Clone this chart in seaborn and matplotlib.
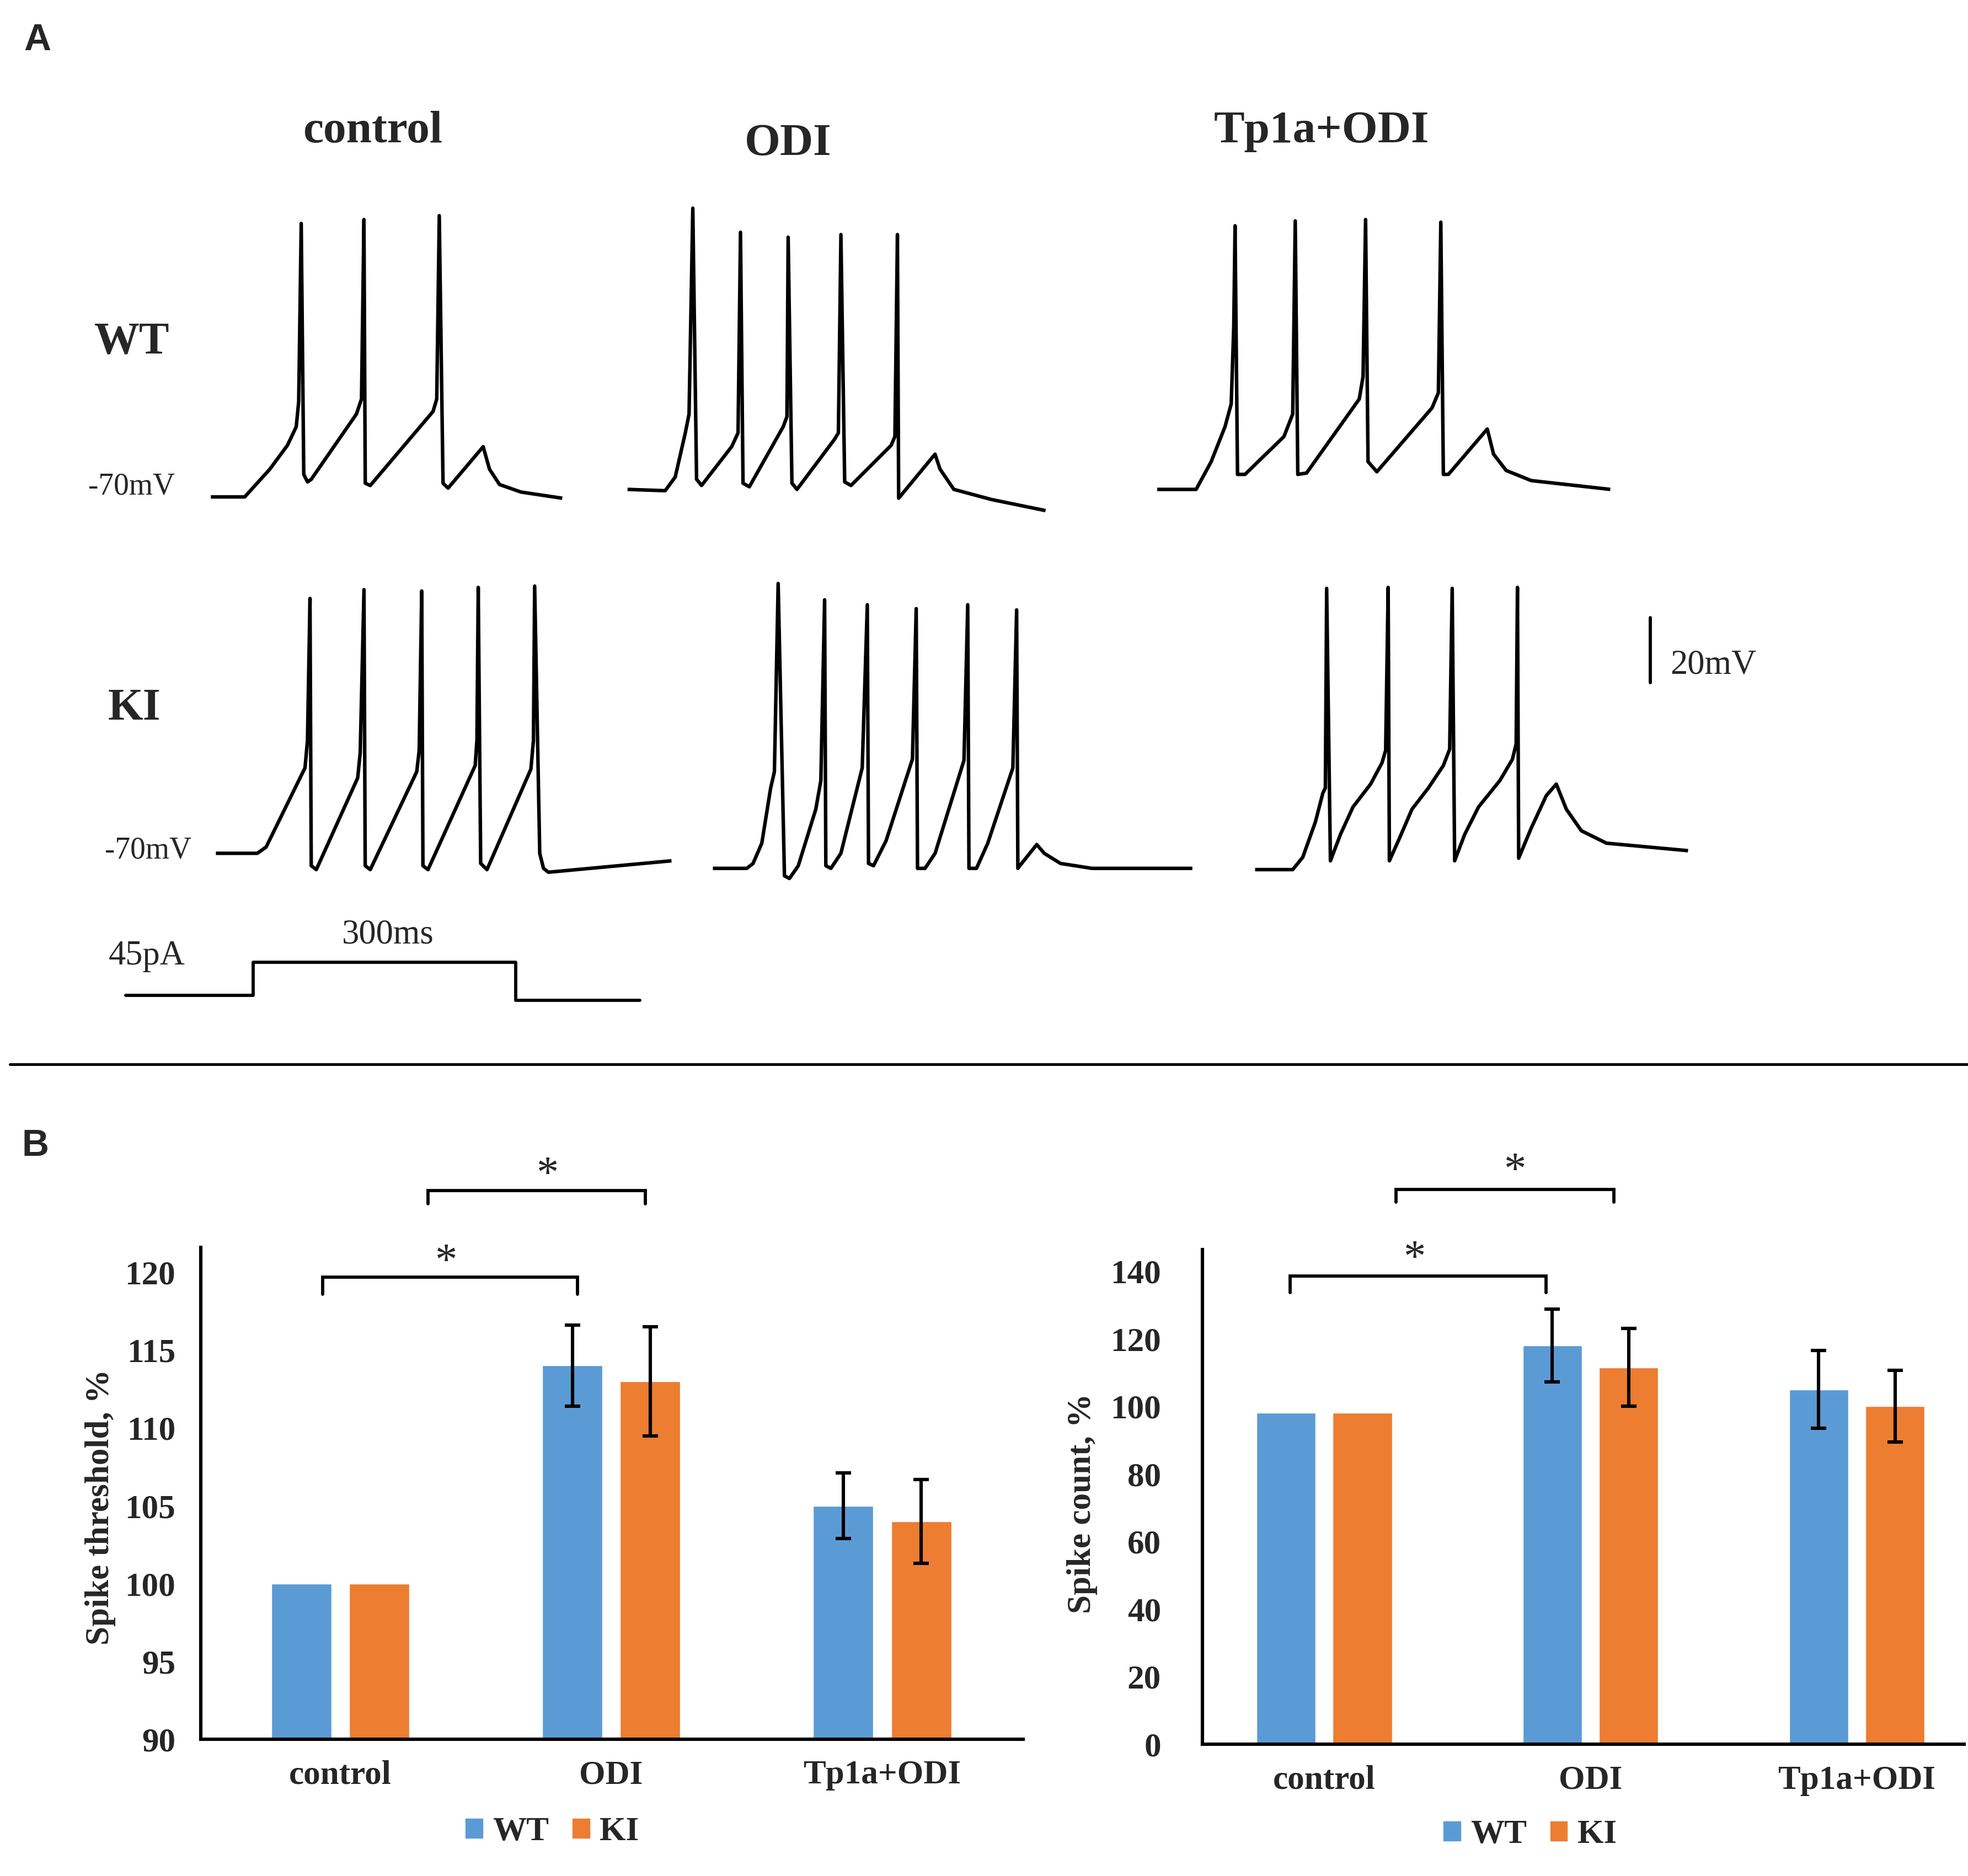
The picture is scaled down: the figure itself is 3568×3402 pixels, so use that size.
import numpy as np
import pandas as pd
import matplotlib
matplotlib.use("Agg")
import matplotlib.pyplot as plt
import seaborn as sns
from matplotlib.patches import Patch
from matplotlib.lines import Line2D

# ---------------- DATA ----------------
# Panel A: representative voltage traces (time in ms, membrane potential in mV)
wt_control_t = [0, 38.7, 67.4, 87.5, 97.6, 100.4, 103.3, 106.2, 110.5, 114.8, 166.4, 172.2, 175, 176.5, 182.2,
                254, 258.2, 261.1, 265.4, 271.2, 311.3, 318.5, 330, 354.4, 401.7]
wt_control_v = [-70, -70, -61.5, -54.2, -48.5, -40.8, 13.8, -63.1, -65.4, -64.6, -44.6, -40, 15, -65.8, -66.5,
                -43.8, -40, 16.2, -65.8, -67.3, -54.6, -61.5, -66.2, -68.5, -70.4]

wt_odi_t = [0, 43, 54.5, 66, 70.3, 74.6, 78.9, 84.6, 119, 126.3, 129.1, 132, 139.2, 177.9, 182.2, 183.6, 187.9,
            193.7, 236.7, 241, 243.9, 248.2, 255.4, 301.3, 305.6, 308.5, 309.9, 351.5, 357.2, 373, 416, 477.8]
wt_odi_v = [-70, -70.4, -66.2, -52.7, -46.9, 16.2, -66.9, -68.8, -56.9, -52.7, 8.8, -68.1, -69.2, -50.8, -47.7,
            7.3, -68.1, -70, -54.6, -52.7, 8.1, -67.7, -68.8, -56.5, -53.8, 8.1, -72.7, -59.2, -63.8, -70, -73.1,
            -76.5]

wt_tp1a_t = [0, 44.5, 61.7, 77.5, 84.6, 87.5, 89, 91.8, 100.4, 144.9, 154.9, 157.8, 160.7, 170.7, 231, 235.3,
             238.2, 241, 251.1, 314.2, 321.4, 324.2, 327.1, 332.9, 377.3, 384.5, 398.9, 427.5, 517.9]
wt_tp1a_v = [-70, -70, -61.5, -50.8, -43.8, -20, 10.8, -65.4, -65.4, -53.8, -46.9, 12.3, -65.4, -65, -42.3,
             -35.4, 12.7, -61.5, -64.6, -45, -40.4, 11.9, -65.4, -65.4, -51.5, -59.2, -64.2, -67.3, -70]

ki_control_t = [0, 47.3, 57.4, 101.9, 104.7, 107.6, 109, 114.8, 162.1, 165, 169.3, 170.7, 176.5, 229.6, 232.4,
                235.3, 236.7, 242.5, 296.4, 298.4, 299.9, 302.7, 309.9, 360.1, 363, 364.4, 370.2, 374.5, 380.2,
                520.8]
ki_control_v = [-70, -70, -68.1, -43.8, -35.4, 8.1, -73.8, -75, -46.9, -39.2, 10.8, -73.8, -75, -45, -38.5,
                10.4, -73.8, -75, -43.1, -35.4, 11.5, -73.1, -75, -44.2, -35.4, 11.9, -70, -74.6, -75.8, -72.3]

ki_odi_t = [0, 38.7, 45.9, 55.9, 66, 70.3, 74.6, 81.8, 87.5, 97.6, 117.6, 123.4, 127.7, 129.1, 134.9, 146.3,
            170.7, 176.5, 177.9, 183.6, 198, 228.1, 232.4, 233.9, 242.5, 254, 287, 291.3, 292.7, 301.3, 314.2,
            342.9, 347.2, 348.6, 352.9, 370.2, 378.8, 397.4, 433.3, 548.1]
ki_odi_v = [-70, -70, -68.5, -62.3, -45.4, -40.4, 17.3, -72.3, -73.1, -69.2, -51.9, -43.1, 12.3, -69.2, -70,
            -65.4, -39.2, 10.8, -68.5, -69.2, -61.5, -36.5, 9.6, -70, -70, -65.4, -36.9, 10.8, -70, -70, -62.3,
            -39.2, 9.2, -70, -68.5, -62.7, -65.4, -68.5, -70, -70]

ki_tp1a_t = [0, 43, 54.5, 68.9, 77.5, 80.3, 81.8, 86.1, 97.6, 111.9, 132, 145, 149.2, 152.1, 153.5, 165, 179.3,
             198, 215.2, 222.4, 225.3, 228.1, 239.6, 255.4, 279.8, 294.1, 298.4, 299.9, 301.3, 315.6, 332.9,
             344.3, 355.8, 373, 401.7, 494.9]
ki_tp1a_v = [-70, -70, -66.2, -55.4, -46.5, -45, 16.2, -67.3, -59.2, -50.8, -43.8, -37.3, -33.5, 16.5, -67.3,
             -60.4, -51.5, -45, -38.1, -33.1, 16.2, -67.3, -59.2, -50.8, -42.7, -36.2, -31.5, 16.5, -66.5, -57.3,
             -47.3, -43.8, -51.5, -58.1, -61.9, -64.2]

# current step protocol (ms, pA)
step_t = [0, 146, 146, 446, 446, 588]
step_i = [0, 0, 45, 45, -7, -7]

# Panel B: bar chart values (mean, SEM)
conditions = ["control", "ODI", "Tp1a+ODI"]
genotypes = ["WT", "KI"]
threshold_wt = [100, 114, 105]
threshold_ki = [100, 113, 104]
threshold_wt_err = [0, 2.6, 2.1]
threshold_ki_err = [0, 3.5, 2.7]
count_wt = [98, 118, 105]
count_ki = [98, 111.5, 100]
count_wt_err = [0, 10.8, 11.5]
count_ki_err = [0, 11.5, 10.6]

# ---------------- STYLE ----------------
sns.set_style("white")
plt.rcParams["font.family"] = ["Liberation Serif", "DejaVu Serif"]
BLUE = "#5B9BD5"
ORANGE = "#ED7D31"

W, H = 1568.0, 1495.0  # layout grid (reference proportions)


def fx(x):
    return x / W


def fy(y):
    return 1 - y / H


fig = plt.figure(figsize=(35.68, 34.02), dpi=100)

# ---------------- PANEL A ----------------
PX_MS = 0.697   # grid px per ms
PX_MV = 2.6     # grid px per mV
TRACE_LW = 4.6


def add_trace(t, v, x0, yb):
    tmax = max(t) + 4
    ax = fig.add_axes([fx(x0), fy(yb + 30 * PX_MV), tmax * PX_MS / W, 130 * PX_MV / H])
    ax.set_xlim(0, tmax)
    ax.set_ylim(-100, 30)
    ax.plot(t, v, color="black", lw=TRACE_LW, solid_joinstyle="round", solid_capstyle="butt", clip_on=False)
    ax.axis("off")
    return ax


add_trace(wt_control_t, wt_control_v, 168, 396)
add_trace(wt_odi_t, wt_odi_v, 500, 390)
add_trace(wt_tp1a_t, wt_tp1a_v, 922, 390)
add_trace(ki_control_t, ki_control_v, 172, 680)
add_trace(ki_odi_t, ki_odi_v, 568, 692)
add_trace(ki_tp1a_t, ki_tp1a_v, 1000, 693)

# 20 mV scale bar
sb = fig.add_axes([fx(1305), fy(544), 20 / W, 20 * PX_MV / H])
sb.set_xlim(0, 1)
sb.set_ylim(0, 20)
sb.plot([0.5, 0.5], [0, 20], color="black", lw=4.2, clip_on=False)
sb.axis("off")

# current step
PX_PA = 26 / 45.0
st = fig.add_axes([fx(100), fy(793 + 10 * PX_PA), 600 * PX_MS / W, 65 * PX_PA / H])
st.set_xlim(0, 600)
st.set_ylim(-10, 55)
st.plot(step_t, step_i, color="black", lw=4.2, clip_on=False)
st.axis("off")

# Panel A text
fig.text(fx(30), fy(32), "A", family="Liberation Sans", weight="bold", size=49, ha="center", va="center")
for lab, x, y in [("control", 297, 105), ("ODI", 628, 115), ("Tp1a+ODI", 1053, 105)]:
    fig.text(fx(x), fy(y), lab, weight="bold", size=60, ha="center", va="center")
fig.text(fx(105), fy(273), "WT", weight="bold", size=59, ha="center", va="center")
fig.text(fx(107), fy(565), "KI", weight="bold", size=59, ha="center", va="center")
fig.text(fx(105), fy(388), "-70mV", size=40, ha="center", va="center")
fig.text(fx(118), fy(678), "-70mV", size=40, ha="center", va="center")
fig.text(fx(117), fy(762), "45pA", size=45, ha="center", va="center")
fig.text(fx(309), fy(745), "300ms", size=45, ha="center", va="center")
fig.text(fx(1365), fy(530), "20mV", size=45, ha="center", va="center")

# separator line
fig.add_artist(Line2D([fx(8), fx(1568)], [fy(848), fy(848)], color="black", lw=3.6))

# ---------------- PANEL B ----------------
fig.text(fx(28), fy(913), "B", family="Liberation Sans", weight="bold", size=49, ha="center", va="center")

TICK_PT = 44


def bar_panel(rect, wt, ki, wt_err, ki_err, ylim, xlim, yticks, ylabel, ytick_pad, label_xy,
              brackets, stars, legend_xy):
    ax = fig.add_axes(rect)
    df = pd.DataFrame({
        "condition": conditions * 2,
        "genotype": ["WT"] * 3 + ["KI"] * 3,
        "value": list(wt) + list(ki),
    })
    sns.barplot(data=df, x="condition", y="value", hue="genotype", order=conditions,
                hue_order=genotypes, palette=[BLUE, ORANGE], width=0.574, gap=0.227,
                errorbar=None, saturation=1, legend=False, ax=ax)
    for cont, errs, vals in zip(ax.containers, [wt_err, ki_err], [wt, ki]):
        for bar, e, v in zip(cont, errs, vals):
            if e > 0:
                xc = bar.get_x() + bar.get_width() / 2
                ax.errorbar(xc, v, yerr=e, color="black", lw=4.4, capsize=10, capthick=4.4,
                            fmt="none", clip_on=False, zorder=5)
    ax.set_ylim(*ylim)
    ax.set_yticks(yticks)
    ax.set_xlim(*xlim)
    ax.set_xlabel("")
    ax.set_ylabel(ylabel, weight="bold", size=TICK_PT)
    ax.yaxis.set_label_coords(*label_xy)
    ax.yaxis.label.set_verticalalignment("center")
    for s in ["top", "right"]:
        ax.spines[s].set_visible(False)
    for s in ["left", "bottom"]:
        ax.spines[s].set_color("black")
        ax.spines[s].set_linewidth(4.4)
    ax.tick_params(axis="y", length=0, pad=ytick_pad, labelsize=TICK_PT)
    ax.tick_params(axis="x", length=0, pad=27, labelsize=TICK_PT)
    for lab in ax.get_xticklabels() + ax.get_yticklabels():
        lab.set_fontweight("bold")
    for (x1, x2, yh, yl) in brackets:
        ax.plot([x1, x1, x2, x2], [yl, yh, yh, yl], color="black", lw=4.2, clip_on=False,
                solid_joinstyle="miter")
    for (xs, ys) in stars:
        ax.text(xs, ys, "*", ha="center", va="center", size=58, clip_on=False)
    fig.legend(handles=[Patch(color=BLUE, label="WT"), Patch(color=ORANGE, label="KI")],
               loc="center", bbox_to_anchor=legend_xy, ncol=2, frameon=False,
               prop=dict(weight="bold", size=TICK_PT), handlelength=0.5, handleheight=0.5,
               handletextpad=0.3, columnspacing=0.7, borderpad=0, borderaxespad=0)
    return ax


bar_panel([fx(160), fy(1386), (815 - 160) / W, (1386 - 994) / H],
          threshold_wt, threshold_ki, threshold_wt_err, threshold_ki_err,
          (90, 121.6), (-0.514, 2.519), [90, 95, 100, 105, 110, 115, 120], "Spike threshold, %", 33,
          (-0.122, 0.472),
          [(0.324, 1.125, 125.24, 124.4), (-0.065, 0.875, 119.68, 118.6)],
          [(0.764, 126.2), (0.389, 120.6)],
          (fx(440), fy(1460)))

bar_panel([fx(958), fy(1390), (1565 - 958) / W, (1390 - 996) / H],
          count_wt, count_ki, count_wt_err, count_ki_err,
          (0, 146.3), (-0.457, 2.403), [0, 20, 40, 60, 80, 100, 120, 140], "Spike count, %", 54,
          (-0.158, 0.487),
          [(0.269, 1.088, 164.1, 160.4), (-0.127, 0.834, 138.5, 133.7)],
          [(0.716, 169.3), (0.339, 143.4)],
          (fx(1219), fy(1462)))

fig.savefig("out.png", dpi=100, facecolor="white")
